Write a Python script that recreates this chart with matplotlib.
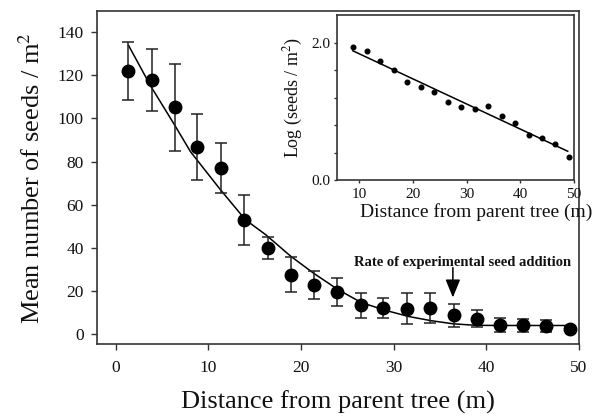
import numpy as np
import matplotlib
matplotlib.use("Agg")
import matplotlib.pyplot as plt

plt.rcParams['font.family'] = ['Liberation Serif', 'DejaVu Serif']
plt.rcParams['mathtext.fontset'] = 'stix'

# main panel: mean seeds per m2 vs distance
distance = [1.4, 3.9, 6.4, 8.8, 11.4, 13.9, 16.4, 18.9, 21.4, 23.9,
            26.5, 28.9, 31.5, 33.9, 36.5, 39.0, 41.5, 44.0, 46.4, 49.0]
mean_seeds = [122.2, 118.0, 105.2, 86.7, 77.0, 52.9, 39.8, 27.4, 22.7, 19.3,
              13.1, 11.9, 11.6, 11.9, 8.5, 6.9, 4.0, 4.0, 3.5, 2.3]
seed_err = [13.4, 14.3, 20.3, 15.5, 11.8, 11.5, 4.9, 8.2, 6.4, 6.5,
            6.0, 4.8, 7.1, 6.8, 5.4, 4.0, 3.1, 3.0, 2.7, 0.8]

# fitted curve
curve_x = [1.4, 3.8, 6.3, 8.1, 11.3, 14.0, 16.2, 18.9, 21.4, 24.0,
           26.5, 29.0, 31.6, 34.1, 36.4, 38.8, 41.3, 49.0]
curve_y = [134, 115, 97.5, 84.5, 67, 53, 46, 36, 28, 20.5,
           14.5, 11, 8, 6, 4.6, 3.9, 3.8, 3.8]

# inset: log seeds vs distance
log_x = [8.8, 11.4, 13.9, 16.4, 18.9, 21.4, 23.9, 26.5, 28.9, 31.5,
         33.9, 36.5, 39.0, 41.5, 44.0, 46.4, 49.0]
log_y = [1.94, 1.88, 1.73, 1.60, 1.43, 1.36, 1.28, 1.13, 1.06, 1.04,
         1.08, 0.93, 0.83, 0.66, 0.62, 0.53, 0.34]
fit_x = [8.8, 48.8]
fit_y = [1.88, 0.42]

spine_col = '#333333'

fig = plt.figure(figsize=(5.95, 4.18), dpi=100)
ax = fig.add_axes([0.163, 0.176, 0.81, 0.798])

ax.errorbar(distance, mean_seeds, yerr=seed_err, fmt='o', color='black',
            ecolor='#222222', elinewidth=1.1, capsize=4, capthick=1.1,
            markersize=9, zorder=3)
ax.plot(curve_x, curve_y, color='black', lw=1.1, zorder=2)

ax.set_xlim(-2, 50)
ax.set_ylim(-5, 150)
ax.set_xticks([0, 10, 20, 30, 40, 50])
ax.set_yticks(range(0, 141, 20))
ax.tick_params(direction='out', length=4.5, width=1, colors=spine_col,
               labelcolor='#111111', labelsize=12.5)
ax.tick_params(axis='x', pad=7)
ax.tick_params(axis='y', pad=5)
for s in ax.spines.values():
    s.set_color(spine_col)
    s.set_linewidth(1.2)
ax.set_xlabel('Distance from parent tree (m)', fontsize=19, labelpad=10,
              color='#111111')
ax.set_ylabel('Mean number of seeds / m$^2$', fontsize=19, labelpad=9,
              color='#111111')

ax.text(37.4, 33, 'Rate of experimental seed addition', fontsize=10.5,
        fontweight='bold', ha='center', va='center', color='#111111')
ax.annotate('', xy=(36.4, 16.8), xytext=(36.4, 30.7),
            arrowprops=dict(arrowstyle='-|>,head_length=1.1,head_width=0.45',
                            color='black', lw=1.1, shrinkA=0, shrinkB=0))

# inset
ax_in = fig.add_axes([0.566, 0.569, 0.399, 0.395])
ax_in.scatter(log_x, log_y, s=11, color='black', zorder=3)
ax_in.plot(fit_x, fit_y, color='black', lw=1.1)
ax_in.set_xlim(5.8, 50)
ax_in.set_ylim(0, 2.4)
ax_in.set_xticks([10, 20, 30, 40, 50])
ax_in.set_yticks([0.0, 2.0])
ax_in.set_yticks([0.4, 0.8, 1.2, 1.6], minor=True)
ax_in.set_yticklabels(['0.0', '2.0'])
ax_in.tick_params(direction='out', length=2.5, width=1, colors=spine_col,
                  labelcolor='#111111', labelsize=11, pad=2)
ax_in.tick_params(axis='x', pad=3)
ax_in.tick_params(axis='y', which='minor', direction='out', length=2.5,
                  width=1, colors=spine_col)
for s in ax_in.spines.values():
    s.set_color(spine_col)
    s.set_linewidth(1.2)
ax_in.set_xlabel('Distance from parent tree (m)', fontsize=14, color='#111111')
ax_in.xaxis.set_label_coords(0.587, -0.14)
ax_in.set_ylabel('Log (seeds / m$^2$)', fontsize=13, labelpad=5,
                 color='#111111')

fig.savefig('out.png', dpi=100)
